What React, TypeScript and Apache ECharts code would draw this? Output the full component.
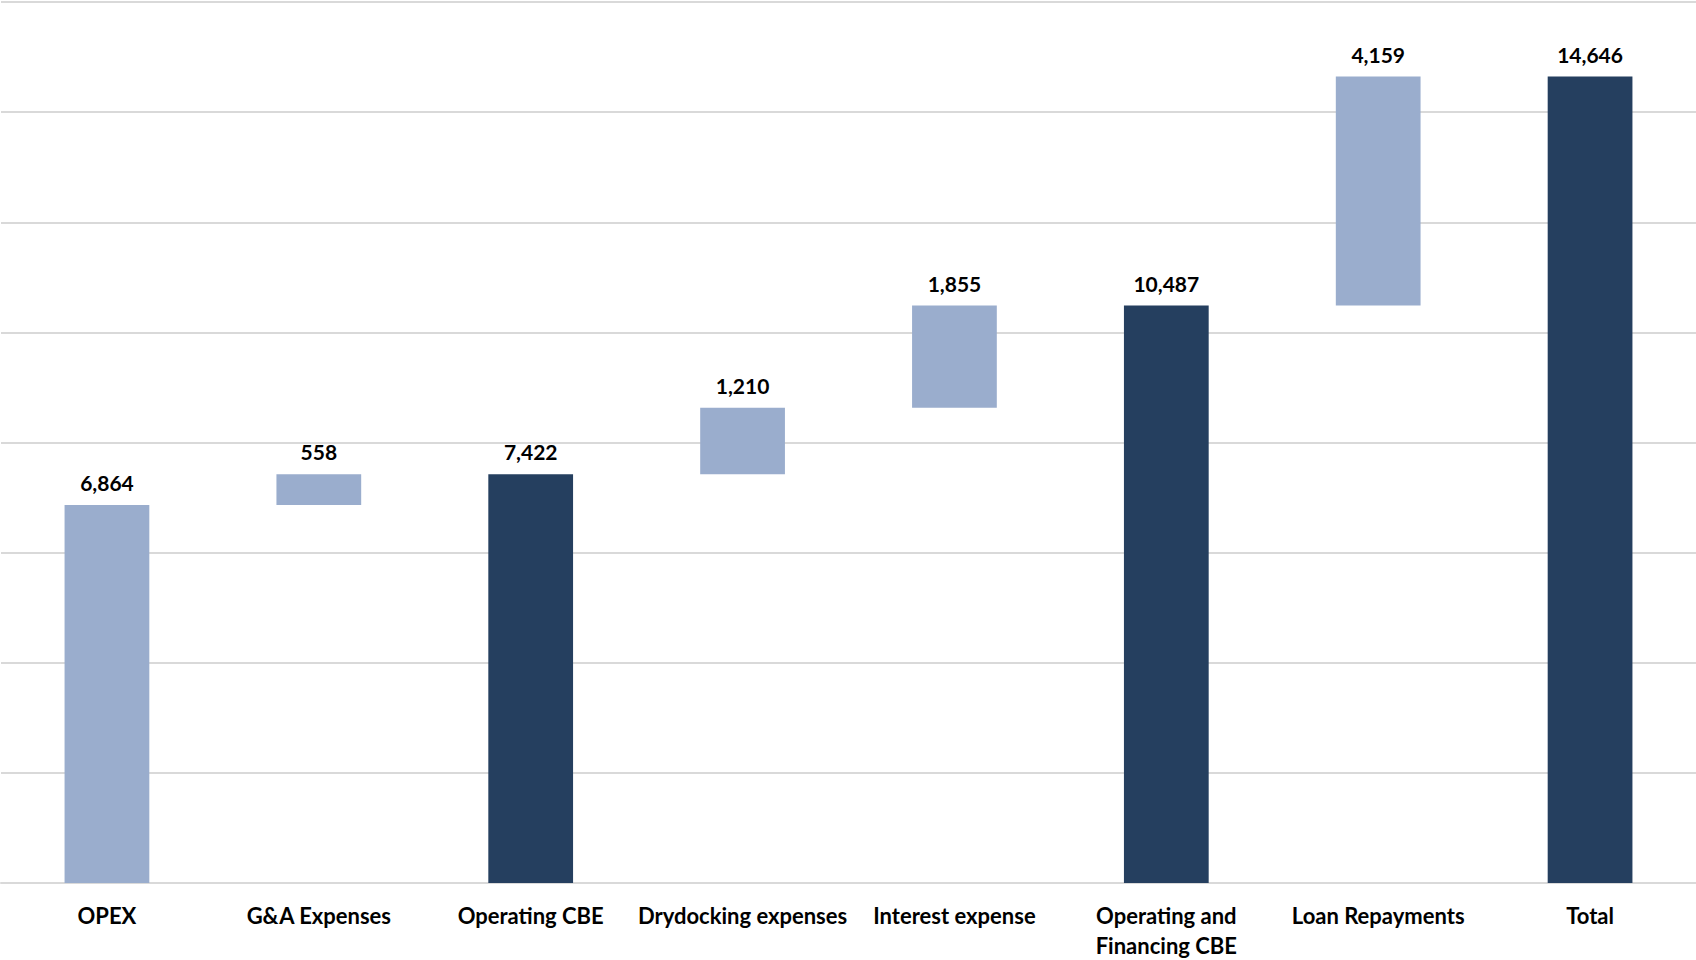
import React, { useEffect, useRef } from "react";
import * as echarts from "echarts";

const categories = [
  "OPEX",
  "G&A Expenses",
  "Operating CBE",
  "Drydocking expenses",
  "Interest expense",
  "Operating and\nFinancing CBE",
  "Loan Repayments",
  "Total",
];
const values = [6864, 558, 7422, 1210, 1855, 10487, 4159, 14646];
const kinds = ["start", "delta", "total", "delta", "delta", "total", "delta", "total"];

const LIGHT = "#9AADCD";
const DARK = "#253F5F";

export default function App() {
  const ref = useRef<HTMLDivElement>(null);
  useEffect(() => {
    document.body.style.margin = "0";
    if (!ref.current) return;
    const chart = echarts.init(ref.current, undefined, { renderer: "svg" });
    let running = 0;
    const bases: number[] = [];
    values.forEach((v, i) => {
      const k = kinds[i];
      if (k === "start") {
        bases.push(0);
        running = v;
      } else if (k === "delta") {
        bases.push(running);
        running += v;
      } else {
        bases.push(0);
      }
    });
    chart.setOption({
      animation: false,
      grid: { left: 1, right: 0, top: 2, bottom: 61, containLabel: false },
      xAxis: {
        type: "category",
        data: categories,
        axisLine: { show: true, lineStyle: { color: "#D9D9D9", width: 2 } },
        axisTick: { show: false },
        axisLabel: {
          fontFamily: "Lato, 'Open Sans', sans-serif",
          fontWeight: "bold",
          fontSize: 22,
          color: "#000",
          margin: 17,
          lineHeight: 30,
          interval: 0,
        },
      },
      yAxis: {
        type: "value",
        min: 0,
        max: 16000,
        interval: 2000,
        axisLabel: { show: false },
        axisLine: { show: false },
        axisTick: { show: false },
        splitLine: { lineStyle: { color: "#D9D9D9", width: 2 } },
      },
      series: [
        {
          type: "bar",
          stack: "w",
          data: bases,
          itemStyle: { color: "transparent" },
          emphasis: { disabled: true },
          silent: true,
          barWidth: "40%",
        },
        {
          type: "bar",
          stack: "w",
          barWidth: "40%",
          data: values.map((v, i) => ({
            value: v,
            itemStyle: { color: kinds[i] === "total" ? DARK : LIGHT },
          })),
          label: {
            show: true,
            position: "top",
            distance: 12,
            fontFamily: "Lato, 'Open Sans', sans-serif",
            fontWeight: "bold",
            fontSize: 21,
            color: "#000",
            formatter: (p: any) => p.value.toLocaleString("en-US"),
          },
        },
      ],
    });
    return () => chart.dispose();
  }, []);
  return <div ref={ref} style={{ width: 1696, height: 960 }} />;
}
